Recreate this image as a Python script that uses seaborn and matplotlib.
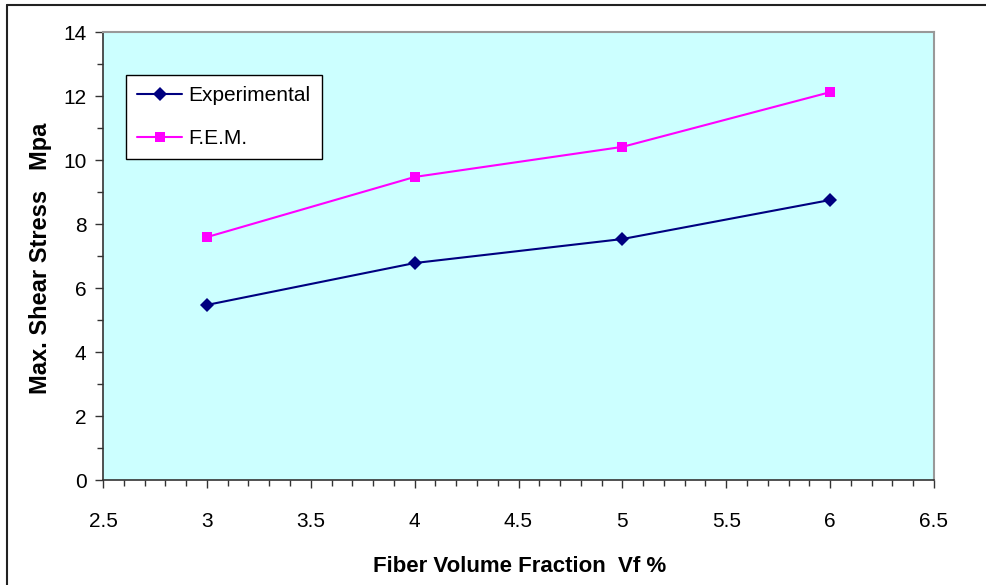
import matplotlib
matplotlib.use("Agg")
import matplotlib.pyplot as plt
import seaborn as sns
import pandas as pd
from matplotlib.lines import Line2D
from matplotlib.ticker import MultipleLocator

vf = [3, 4, 5, 6]
experimental = [5.47, 6.78, 7.53, 8.75]
fem = [7.59, 9.47, 10.41, 12.12]
series_names = ["Experimental", "F.E.M."]

df = pd.DataFrame({
    "Vf": vf * 2,
    "Stress": experimental + fem,
    "Series": [series_names[0]] * len(vf) + [series_names[1]] * len(vf),
})

sns.set_theme(style="ticks")
plt.rcParams['font.family'] = ['Liberation Sans', 'DejaVu Sans']
plt.rcParams['text.color'] = 'black'
plt.rcParams['axes.labelcolor'] = 'black'

W, H = 987, 585
fig = plt.figure(figsize=(W / 100, H / 100), dpi=100)
ax = fig.add_axes([103 / W, 1 - 480 / H, (934 - 103) / W, (480 - 32) / H])
ax.set_facecolor("#CCFFFF")

sns.lineplot(data=df, x="Vf", y="Stress", hue="Series", style="Series",
             palette={"Experimental": "#000080", "F.E.M.": "#FF00FF"},
             markers={"Experimental": "D", "F.E.M.": "s"},
             dashes=False, markersize=7.5, linewidth=1.5,
             markeredgewidth=0, ax=ax)
for l in ax.lines:
    if l.get_marker() == "D":
        l.set_markersize(7)

ax.set_xlim(2.5, 6.5)
ax.set_ylim(0, 14)
ax.xaxis.set_major_locator(MultipleLocator(0.5))
ax.xaxis.set_minor_locator(MultipleLocator(0.1))
ax.yaxis.set_major_locator(MultipleLocator(2))
ax.yaxis.set_minor_locator(MultipleLocator(1))
ax.set_xticklabels([f"{v:g}" for v in ax.get_xticks()])
ax.tick_params(axis="both", which="major", labelsize=15, length=5.8, width=1,
               color="#333333", labelcolor="black", direction="out")
ax.tick_params(axis="both", which="minor", length=4, width=1,
               color="#333333", direction="out")
ax.tick_params(axis="x", pad=17)
ax.tick_params(axis="y", pad=6)

for side in ["left", "bottom"]:
    ax.spines[side].set_color("#333333")
    ax.spines[side].set_linewidth(1.2)
for side in ["top", "right"]:
    ax.spines[side].set_visible(True)
    ax.spines[side].set_color("#999999")
    ax.spines[side].set_linewidth(1.5)

ax.set_xlabel("Fiber Volume Fraction  Vf %", fontsize=16, fontweight="bold", color="black")
ax.set_ylabel("Max. Shear Stress   Mpa", fontsize=17, fontweight="bold", color="black")
ax.xaxis.set_label_coords(520 / W, 1 - 566 / H, transform=fig.transFigure)
ax.xaxis.label.set_va("center")
ax.yaxis.set_label_coords(41 / W, 1 - 258 / H, transform=fig.transFigure)
ax.yaxis.label.set_va("center")
ax.yaxis.label.set_ha("center")

leg = ax.legend(loc="upper left", bbox_to_anchor=((126 - 103) / 831, 1 - (75 - 32) / 448),
                frameon=True, fancybox=False, fontsize=15, handlelength=2.15,
                borderpad=0.55, labelspacing=1.13, handletextpad=0.3, borderaxespad=0)
leg.get_frame().set_edgecolor("black")
leg.get_frame().set_facecolor("white")
leg.get_frame().set_alpha(1)
leg.get_frame().set_linewidth(1)
for t in leg.get_texts():
    t.set_color("black")

fig.add_artist(Line2D([7 / W, 1], [1 - 5 / H, 1 - 5 / H], color="#222222",
                      linewidth=1.5, transform=fig.transFigure))
fig.add_artist(Line2D([7 / W, 7 / W], [0, 1 - 5 / H], color="#222222",
                      linewidth=1.5, transform=fig.transFigure))

fig.savefig("out.png", dpi=100, facecolor="white")
